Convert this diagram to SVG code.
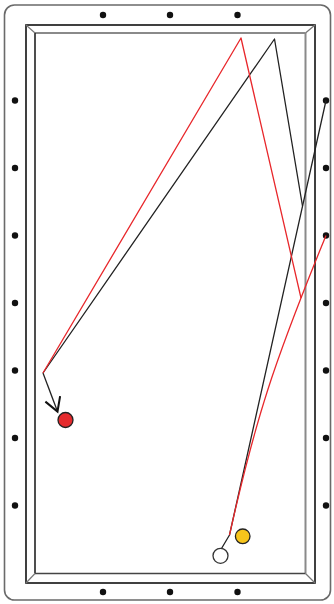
<svg xmlns="http://www.w3.org/2000/svg" width="334" height="604" viewBox="0 0 334 604">
<style>
.frame{fill:#fff;stroke:#6a6a6a;stroke-width:1.6}
.rail{fill:none;stroke:#111;stroke-width:1.6}
.cushL{fill:none;stroke:#222;stroke-width:1.6}
.cushG{fill:none;stroke:#8a8a8a;stroke-width:2}
.diag{fill:none;stroke:#777;stroke-width:1.2}
.dot{fill:#111}
.blk{fill:none;stroke:#222;stroke-width:1.3;stroke-linejoin:round}
.red{fill:none;stroke:#e8272b;stroke-width:1.3;stroke-linejoin:round}
.ball{stroke:#222;stroke-width:1.3}
</style>
<defs>
<marker id="arr" markerUnits="userSpaceOnUse" markerWidth="18" markerHeight="18" refX="13" refY="8" orient="auto" viewBox="0 0 16 16">
<path d="M1,1 L13,8 L1,15" fill="none" stroke="#111" stroke-width="1.8"/>
</marker>
</defs>
<g id="table">
<rect class="frame" x="4.5" y="5" width="326" height="595" rx="10" ry="10"/>
<rect class="rail" x="26" y="25" width="289" height="558"/>
<line class="cushG" x1="35" y1="33" x2="305.5" y2="33"/>
<line class="cushG" x1="305.5" y1="33" x2="305.5" y2="573.5"/>
<line class="cushL" x1="35" y1="33" x2="35" y2="573.5"/>
<line class="cushL" x1="35" y1="573.5" x2="305.5" y2="573.5" style="stroke:#444"/>
<line class="diag" x1="26" y1="25" x2="35" y2="33"/>
<line class="diag" x1="315" y1="25" x2="305.5" y2="33"/>
<line class="diag" x1="26" y1="583" x2="35" y2="573.5"/>
<line class="diag" x1="315" y1="583" x2="305.5" y2="573.5"/>
</g>
<g id="diamonds">
<circle class="dot" cx="103" cy="15" r="3.2"/>
<circle class="dot" cx="170" cy="15" r="3.2"/>
<circle class="dot" cx="237.5" cy="15" r="3.2"/>
<circle class="dot" cx="103" cy="592" r="3.2"/>
<circle class="dot" cx="170" cy="592" r="3.2"/>
<circle class="dot" cx="237.5" cy="592" r="3.2"/>
<circle class="dot" cx="15" cy="100.5" r="3.2"/>
<circle class="dot" cx="15" cy="168" r="3.2"/>
<circle class="dot" cx="15" cy="235.5" r="3.2"/>
<circle class="dot" cx="15" cy="303" r="3.2"/>
<circle class="dot" cx="15" cy="370.5" r="3.2"/>
<circle class="dot" cx="15" cy="438" r="3.2"/>
<circle class="dot" cx="15" cy="505.5" r="3.2"/>
<circle class="dot" cx="326" cy="100.5" r="3.2"/>
<circle class="dot" cx="326" cy="168" r="3.2"/>
<circle class="dot" cx="326" cy="235.5" r="3.2"/>
<circle class="dot" cx="326" cy="303" r="3.2"/>
<circle class="dot" cx="326" cy="370.5" r="3.2"/>
<circle class="dot" cx="326" cy="438" r="3.2"/>
<circle class="dot" cx="326" cy="505.5" r="3.2"/>
</g>
<g id="connectors">
<polyline class="blk" points="221.5,548.5 229.5,535 326,100.5"/>
<polyline class="blk" points="302.5,206 274.5,39 43,373"/>
<line class="blk" x1="43" y1="373" x2="57.5" y2="411.5" marker-end="url(#arr)"/>
<path class="red" d="M229.5,535 C255.2,420 272.9,365 326,235.5"/>
<polyline class="red" points="301,298 241,38 43,373"/>
</g>
<g id="red-ball"><circle class="ball" cx="65.5" cy="420" r="7.5" fill="#e52a2d"/></g>
<g id="yellow-ball"><circle class="ball" cx="242.7" cy="536.3" r="7.3" fill="#f7c51c"/></g>
<g id="cue-ball"><circle class="ball" cx="220.5" cy="555.8" r="7.5" fill="#fff" style="stroke:#333"/></g>
</svg>
